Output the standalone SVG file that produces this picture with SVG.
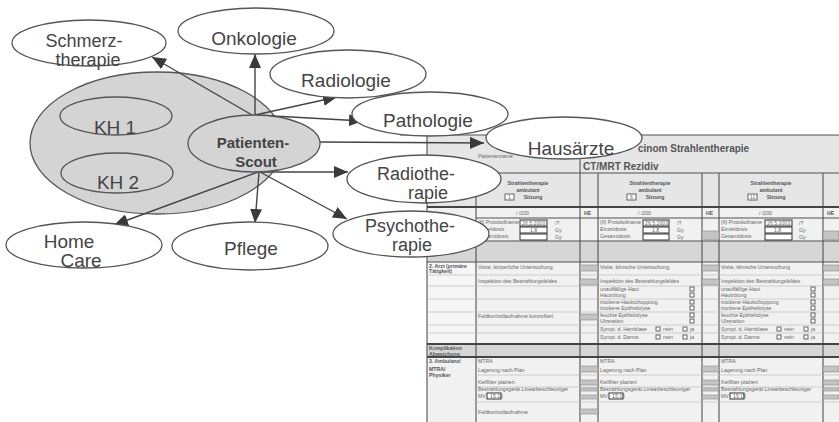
<svg xmlns="http://www.w3.org/2000/svg" width="839" height="422" viewBox="0 0 839 422">
<style>
.node ellipse{fill:#fff;stroke:#555;stroke-width:1.3}
.lbl{font-family:"Liberation Sans",Arial,sans-serif;font-size:19px;fill:#444;text-anchor:middle}
.l2{font-size:18px}
.conn line{stroke:#444;stroke-width:1.4;marker-end:url(#ah)}
.f{font-family:"Liberation Sans",Arial,sans-serif;font-size:5.2px;fill:#666}
.fb{font-family:"Liberation Sans",Arial,sans-serif;font-size:5.2px;fill:#555;font-weight:bold}
.ln{stroke:#505050;stroke-width:1.1}
.lt{stroke:#444;stroke-width:1.8}
.lf{stroke:#b5b5b5;stroke-width:0.6}
.he{fill:#c4c4c4;stroke:#777;stroke-width:0.5}
.cb{fill:#fff;stroke:#555;stroke-width:0.9}
.vb{fill:#fff;stroke:#333;stroke-width:1}
</style>
<defs>
<marker id="ah" markerUnits="userSpaceOnUse" markerWidth="15" markerHeight="13" refX="14" refY="6" orient="auto">
<path d="M0,0 L14,6 L0,12 z" fill="#3a3a3a"/>
</marker>
</defs>
<rect width="839" height="422" fill="#fff"/>

<!-- scanned form -->
<g id="form">
<rect x="427" y="135" width="412" height="287" fill="#f1f1f1"/>
<rect x="427" y="135" width="412" height="72" fill="#e6e6e6"/>
<rect x="427" y="241" width="412" height="21" fill="#d6d6d6"/>
<rect x="427" y="344" width="412" height="13" fill="#d6d6d6"/>
<rect x="427" y="262" width="49" height="82" fill="#f6f6f6"/>
<line class="ln" x1="400" y1="135" x2="839" y2="135"/>
<line class="ln" x1="427" y1="135" x2="427" y2="422"/>
<line class="ln" x1="476" y1="173" x2="476" y2="422"/>
<line class="ln" x1="580" y1="135" x2="580" y2="422"/>
<line class="ln" x1="598" y1="173" x2="598" y2="422"/>
<line class="ln" x1="702" y1="173" x2="702" y2="422"/>
<line class="ln" x1="719" y1="173" x2="719" y2="422"/>
<line class="ln" x1="823" y1="173" x2="823" y2="422"/>
<line class="ln" x1="476" y1="173" x2="839" y2="173"/>
<line class="lt" x1="427" y1="207" x2="839" y2="207"/>
<line class="ln" x1="476" y1="218" x2="839" y2="218"/>
<line class="ln" x1="427" y1="241" x2="839" y2="241"/>
<line class="ln" x1="427" y1="262" x2="839" y2="262"/>
<line class="lt" x1="427" y1="344" x2="839" y2="344"/>
<line class="lt" x1="427" y1="357" x2="839" y2="357"/>
<g class="lf">
<line x1="427" y1="275" x2="839" y2="275"/>
<line x1="427" y1="286" x2="839" y2="286"/>
<line x1="427" y1="299" x2="839" y2="299"/>
<line x1="427" y1="312" x2="839" y2="312"/>
<line x1="427" y1="325" x2="839" y2="325"/>
<line x1="427" y1="333" x2="839" y2="333"/>
<line x1="476" y1="375" x2="839" y2="375"/>
<line x1="476" y1="387" x2="839" y2="387"/>
<line x1="476" y1="402" x2="839" y2="402"/>
</g>
<text class="f" x="478" y="158">Patientenname</text>
<text x="638" y="152" font-family="Liberation Sans,Arial,sans-serif" font-size="10" font-weight="bold" fill="#555">cinom Strahlentherapie</text>
<text x="583" y="170" font-family="Liberation Sans,Arial,sans-serif" font-size="10" font-weight="bold" fill="#555">CT/MRT Rezidiv</text>
<g text-anchor="middle">
<text class="fb" x="528" y="185">Strahlentherapie</text>
<text class="fb" x="528" y="192">ambulant</text>
<text class="fb" x="533" y="199">Sitzung</text>
<text class="fb" x="650" y="185">Strahlentherapie</text>
<text class="fb" x="650" y="192">ambulant</text>
<text class="fb" x="655" y="199">Sitzung</text>
<text class="fb" x="771" y="185">Strahlentherapie</text>
<text class="fb" x="771" y="192">ambulant</text>
<text class="fb" x="776" y="199">Sitzung</text>
</g>
<rect class="cb" x="505" y="194" width="9" height="6"/>
<text class="f" x="508" y="199" font-size="4">1</text>
<rect class="cb" x="627" y="194" width="9" height="6"/>
<text class="f" x="630" y="199" font-size="4">6</text>
<rect class="cb" x="748" y="194" width="9" height="6"/>
<text class="f" x="750" y="199" font-size="4">11</text>
<text class="f" x="516" y="215">/  /200</text>
<text class="f" x="638" y="215">/  /200</text>
<text class="f" x="759" y="215">/  /200</text>
<text class="fb" x="584" y="215">HE</text>
<text class="fb" x="706" y="215">HE</text>
<text class="fb" x="827" y="215">HE</text>
<text class="f" x="478" y="224">(If) Protokollname</text>
<text class="f" x="478" y="231">Einzeldosis</text>
<text class="f" x="478" y="238">Gesamtdosis</text>
<rect class="vb" x="520" y="220" width="27" height="6"/>
<rect class="vb" x="520" y="227" width="27" height="6"/>
<rect class="vb" x="520" y="234" width="27" height="6"/>
<text class="f" x="522" y="225" font-size="4">26.5.2003</text>
<text class="f" x="530" y="232" font-size="4">1.8</text>
<text class="f" x="555" y="225">/?</text>
<text class="f" x="555" y="232">Gy</text>
<text class="f" x="555" y="239">Gy</text>
<text class="f" x="600" y="224">(If) Protokollname</text>
<text class="f" x="600" y="231">Einzeldosis</text>
<text class="f" x="600" y="238">Gesamtdosis</text>
<rect class="vb" x="643" y="220" width="26" height="6"/>
<rect class="vb" x="643" y="227" width="26" height="6"/>
<rect class="vb" x="643" y="234" width="26" height="6"/>
<text class="f" x="645" y="225" font-size="4">26.5.2003</text>
<text class="f" x="652" y="232" font-size="4">1.8</text>
<text class="f" x="677" y="225">/?</text>
<text class="f" x="677" y="232">Gy</text>
<text class="f" x="677" y="239">Gy</text>
<text class="f" x="721" y="224">(If) Protokollname</text>
<text class="f" x="721" y="231">Einzeldosis</text>
<text class="f" x="721" y="238">Gesamtdosis</text>
<rect class="vb" x="765" y="220" width="27" height="6"/>
<rect class="vb" x="765" y="227" width="27" height="6"/>
<rect class="vb" x="765" y="234" width="27" height="6"/>
<text class="f" x="767" y="225" font-size="4">26.5.2003</text>
<text class="f" x="774" y="232" font-size="4">1.8</text>
<text class="f" x="799" y="225">/?</text>
<text class="f" x="799" y="232">Gy</text>
<text class="f" x="799" y="239">Gy</text>
<rect class="he" x="702" y="231" width="17" height="9"/>
<rect class="he" x="823" y="231" width="16" height="9"/>
<text class="fb" x="429" y="268">2. Arzt (primäre</text>
<text class="fb" x="429" y="273">Tätigkeit)</text>
<text class="f" x="478" y="269">Visite, körperliche Untersuchung</text>
<text class="f" x="478" y="283">Inspektion des Bestrahlungsfeldes</text>
<text class="f" x="478" y="318">Feldkontrollaufnahme kontrolliert</text>
<rect class="he" x="580" y="265" width="18" height="6"/>
<rect class="he" x="580" y="279" width="18" height="6"/>
<rect class="he" x="580" y="314" width="18" height="6"/>
<rect class="he" x="702" y="265" width="17" height="6"/>
<rect class="he" x="702" y="279" width="17" height="6"/>
<rect class="he" x="823" y="265" width="16" height="6"/>
<rect class="he" x="823" y="279" width="16" height="6"/>
<g id="col2list">
<text class="f" x="600" y="269">Visite, klinische Untersuchung</text>
<text class="f" x="600" y="283">Inspektion des Bestrahlungsfeldes</text>
<text class="f" x="600" y="291">unauffällige Haut</text>
<text class="f" x="600" y="297">Hautrötung</text>
<text class="f" x="600" y="304">trockene Hautschuppung</text>
<text class="f" x="600" y="310">trockene Epitheliolyse</text>
<text class="f" x="600" y="317">feuchte Epitheliolyse</text>
<text class="f" x="600" y="323">Ulzeration</text>
<text class="f" x="600" y="331">Sympt. d. Harnblase</text>
<text class="f" x="600" y="339">Sympt. d. Darms</text>
<rect class="cb" x="690" y="287" width="4" height="4"/>
<rect class="cb" x="690" y="293" width="4" height="4"/>
<rect class="cb" x="690" y="300" width="4" height="4"/>
<rect class="cb" x="690" y="306" width="4" height="4"/>
<rect class="cb" x="690" y="313" width="4" height="4"/>
<rect class="cb" x="690" y="319" width="4" height="4"/>
<rect class="cb" x="656" y="327" width="4" height="4"/>
<text class="f" x="663" y="331">nein</text>
<rect class="cb" x="683" y="327" width="4" height="4"/>
<text class="f" x="690" y="331">ja</text>
<rect class="cb" x="656" y="335" width="4" height="4"/>
<text class="f" x="663" y="339">nein</text>
<rect class="cb" x="683" y="335" width="4" height="4"/>
<text class="f" x="690" y="339">ja</text>
</g>
<g id="col3list">
<text class="f" x="721" y="269">Visite, klinische Untersuchung</text>
<text class="f" x="721" y="283">Inspektion des Bestrahlungsfeldes</text>
<text class="f" x="721" y="291">unauffällige Haut</text>
<text class="f" x="721" y="297">Hautrötung</text>
<text class="f" x="721" y="304">trockene Hautschuppung</text>
<text class="f" x="721" y="310">trockene Epitheliolyse</text>
<text class="f" x="721" y="317">feuchte Epitheliolyse</text>
<text class="f" x="721" y="323">Ulzeration</text>
<text class="f" x="721" y="331">Sympt. d. Harnblase</text>
<text class="f" x="721" y="339">Sympt. d. Darms</text>
<rect class="cb" x="811" y="287" width="4" height="4"/>
<rect class="cb" x="811" y="293" width="4" height="4"/>
<rect class="cb" x="811" y="300" width="4" height="4"/>
<rect class="cb" x="811" y="306" width="4" height="4"/>
<rect class="cb" x="811" y="313" width="4" height="4"/>
<rect class="cb" x="811" y="319" width="4" height="4"/>
<rect class="cb" x="777" y="327" width="4" height="4"/>
<text class="f" x="784" y="331">nein</text>
<rect class="cb" x="804" y="327" width="4" height="4"/>
<text class="f" x="811" y="331">ja</text>
<rect class="cb" x="777" y="335" width="4" height="4"/>
<text class="f" x="784" y="339">nein</text>
<rect class="cb" x="804" y="335" width="4" height="4"/>
<text class="f" x="811" y="339">ja</text>
</g>
<text class="fb" x="429" y="350">Komplikation</text>
<text class="fb" x="429" y="356" text-decoration="underline">Abweichung</text>
<text class="fb" x="429" y="363">3. Ambulanz/</text>
<text class="fb" x="429" y="371">MTRA/</text>
<text class="fb" x="429" y="377">Physiker</text>
<text class="f" x="478" y="363">MTRA</text>
<text class="f" x="478" y="372">Lagerung nach Plan</text>
<text class="f" x="478" y="384">Keilfilter plaziert</text>
<text class="f" x="478" y="391">Bestrahlungsgerät Linearbeschleuniger</text>
<text class="f" x="478" y="398">MV</text>
<rect class="vb" x="487" y="393" width="14" height="6"/>
<text class="f" x="490" y="398" font-size="4">15,15</text>
<text class="f" x="478" y="414">Feldkontrollaufnahme</text>
<text class="f" x="600" y="363">MTRA</text>
<text class="f" x="600" y="372">Lagerung nach Plan</text>
<text class="f" x="600" y="384">Keilfilter plaziert</text>
<text class="f" x="600" y="391">Bestrahlungsgerät Linearbeschleuniger</text>
<text class="f" x="600" y="398">MV</text>
<rect class="vb" x="609" y="393" width="14" height="6"/>
<text class="f" x="612" y="398" font-size="4">15,15</text>
<text class="f" x="721" y="363">MTRA</text>
<text class="f" x="721" y="372">Lagerung nach Plan</text>
<text class="f" x="721" y="384">Keilfilter plaziert</text>
<text class="f" x="721" y="391">Bestrahlungsgerät Linearbeschleuniger</text>
<text class="f" x="721" y="398">MV</text>
<rect class="vb" x="730" y="393" width="14" height="6"/>
<text class="f" x="733" y="398" font-size="4">15,15</text>
<rect class="he" x="580" y="366" width="18" height="6"/>
<rect class="he" x="580" y="380" width="18" height="5"/>
<rect class="he" x="580" y="388" width="18" height="3"/>
<rect class="he" x="580" y="395" width="18" height="4"/>
<rect class="he" x="580" y="409" width="18" height="5"/>
<rect class="he" x="702" y="366" width="17" height="6"/>
<rect class="he" x="702" y="380" width="17" height="5"/>
<rect class="he" x="702" y="388" width="17" height="3"/>
<rect class="he" x="702" y="395" width="17" height="4"/>
<rect class="he" x="823" y="366" width="16" height="6"/>
<rect class="he" x="823" y="380" width="16" height="5"/>
<rect class="he" x="823" y="388" width="16" height="3"/>
<rect class="he" x="823" y="395" width="16" height="4"/>
</g>

<g id="kh-cluster">
<ellipse cx="157" cy="143" rx="127" ry="71" fill="#d4d4d4" stroke="#555" stroke-width="1.3"/>
</g>
<g id="kh1">
<ellipse cx="116" cy="116" rx="56" ry="19" fill="none" stroke="#555" stroke-width="1.3"/>
<text class="lbl" x="115" y="134">KH 1</text>
</g>
<g id="kh2">
<ellipse cx="117" cy="173" rx="56" ry="20" fill="none" stroke="#555" stroke-width="1.3"/>
<text class="lbl" x="118" y="189">KH 2</text>
</g>

<g id="connectors" class="conn">
<line x1="252" y1="115" x2="152" y2="57"/>
<line x1="255" y1="115" x2="255" y2="54"/>
<line x1="255" y1="115" x2="337" y2="97"/>
<line x1="255" y1="115" x2="363" y2="121"/>
<line x1="320" y1="142" x2="484" y2="143"/>
<line x1="262" y1="172" x2="348" y2="172"/>
<line x1="260" y1="172" x2="347" y2="219"/>
<line x1="259" y1="172" x2="255" y2="223"/>
<line x1="258" y1="172" x2="114" y2="225"/>
</g>

<g id="scout">
<ellipse cx="254" cy="143.5" rx="66" ry="28.5" fill="#d4d4d4" stroke="#555" stroke-width="1.3"/>
<text x="253" y="148" font-family="Liberation Sans,Arial,sans-serif" font-size="15" font-weight="bold" fill="#444" text-anchor="middle">Patienten-</text>
<text x="256" y="167" font-family="Liberation Sans,Arial,sans-serif" font-size="15" font-weight="bold" fill="#444" text-anchor="middle">Scout</text>
</g>
<g id="schmerztherapie" class="node">
<ellipse cx="89" cy="43" rx="77" ry="23"/>
<text class="lbl l2" x="84" y="47">Schmerz-</text>
<text class="lbl l2" x="88" y="66">therapie</text>
</g>
<g id="onkologie" class="node">
<ellipse cx="256" cy="31" rx="78" ry="23"/>
<text class="lbl" x="254" y="45">Onkologie</text>
</g>
<g id="radiologie" class="node">
<ellipse cx="348" cy="74" rx="78" ry="24"/>
<text class="lbl" x="346" y="87">Radiologie</text>
</g>
<g id="pathologie" class="node">
<ellipse cx="430" cy="114" rx="78" ry="22"/>
<text class="lbl" x="428" y="127">Pathologie</text>
</g>
<g id="hausaerzte" class="node">
<ellipse cx="564" cy="138" rx="78" ry="21"/>
<text class="lbl" x="571" y="155" font-size="20">Hausärzte</text>
</g>
<g id="radiotherapie" class="node">
<ellipse cx="424" cy="179" rx="77" ry="24"/>
<text class="lbl l2" x="416" y="180">Radiothe-</text>
<text class="lbl l2" x="428" y="199">rapie</text>
</g>
<g id="psychotherapie" class="node">
<ellipse cx="411" cy="234" rx="78" ry="23"/>
<text class="lbl l2" x="410" y="232">Psychothe-</text>
<text class="lbl l2" x="412" y="251">rapie</text>
</g>
<g id="homecare" class="node">
<ellipse cx="84" cy="245" rx="78" ry="23"/>
<text class="lbl" x="69" y="248">Home</text>
<text class="lbl" x="81" y="267">Care</text>
</g>
<g id="pflege" class="node">
<ellipse cx="250" cy="246" rx="78" ry="24"/>
<text class="lbl" x="251" y="255">Pflege</text>
</g>
</svg>
